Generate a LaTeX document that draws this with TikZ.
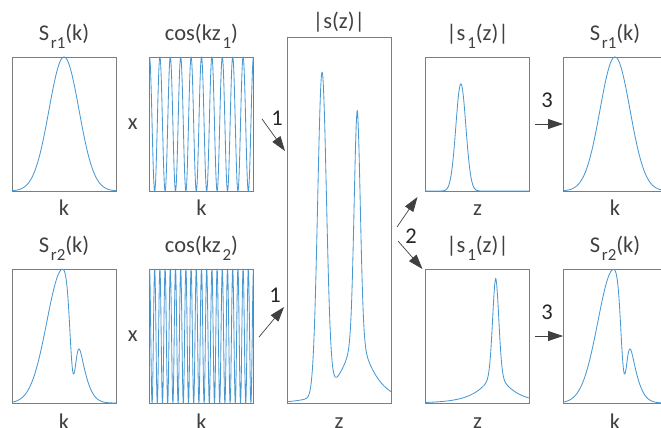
\documentclass[tikz,border=0pt]{standalone}
\usepackage{fontspec}
\setmainfont{Carlito}
\usetikzlibrary{calc, arrows.meta, positioning}
\definecolor{curveblue}{RGB}{72,152,212}
\definecolor{framegray}{RGB}{125,125,125}
\definecolor{textgray}{RGB}{64,64,64}
\newcommand{\lowidx}[1]{\kern0.08em\raisebox{-0.35em}{\fontsize{12}{12}\selectfont #1}}
\tikzset{
  plotbox/.style={draw=framegray, line width=0.6pt, minimum width=2.6cm, minimum height=3.35cm, inner sep=0pt, outer sep=0pt},
  curve/.style={curveblue, line width=0.6pt, line join=round},
  lbl/.style={text=textgray, font=\fontsize{16}{19}\selectfont, inner sep=0pt},
  num/.style={lbl, text=black!85},
  flow/.style={black!75, line width=0.5pt, -{Triangle[length=10.5pt, width=7pt]}},
  declare function={
    gsn(\x,\m,\w)=exp(-((\x-\m)/\w)^2/2);
    skirt(\x)=0.67*gsn(\x,0.675,0.03)+0.26*exp(-abs(\x-0.675)/0.165);
    reflb(\x)=exp(-((\x-0.49)/((\x<0.49)?0.155:0.125))^2/2)*(1-0.7*gsn(\x,0.59,0.03));
  }
}

\begin{document}
\begin{tikzpicture}[x=0.025cm, y=-0.025cm]
    \useasboundingbox (0,0) rectangle (661,427);

    % boxes
    \node[plotbox] (sr1a) at (64,124) {};
    \node[plotbox] (cosa) at (201.5,124) {};
    \node[plotbox] (sr2a) at (64,336) {};
    \node[plotbox] (cosb) at (201.5,336) {};
    \node[plotbox, minimum height=9.15cm] (zmid) at (339,220) {};
    \node[plotbox] (sza) at (477.5,124) {};
    \node[plotbox] (szb) at (477.5,336) {};
    \node[plotbox] (srra) at (615,124) {};
    \node[plotbox] (srrb) at (615,336) {};

    % curves
    \begin{scope}[shift={(sr1a.south west)}, x=2.6cm, y=3.35cm]
        \draw[curve] plot[domain=0:1, samples=150] (\x, {gsn(\x,0.5,0.144)});
    \end{scope}
    \begin{scope}[shift={(srra.south west)}, x=2.6cm, y=3.35cm]
        \draw[curve] plot[domain=0:1, samples=150] (\x, {gsn(\x,0.5,0.144)});
    \end{scope}
    \begin{scope}[shift={(sr2a.south west)}, x=2.6cm, y=3.35cm]
        \draw[curve] plot[domain=0:1, samples=200] (\x, {reflb(\x)});
    \end{scope}
    \begin{scope}[shift={(srrb.south west)}, x=2.6cm, y=3.35cm]
        \draw[curve] plot[domain=0:1, samples=200] (\x, {reflb(\x)});
    \end{scope}
    \begin{scope}[shift={(cosa.south west)}, x=2.6cm, y=3.35cm]
        \draw[curve] plot[domain=0:1, samples=401] (\x, {0.5+0.5*cos(3600*\x)});
    \end{scope}
    \begin{scope}[shift={(cosb.south west)}, x=2.6cm, y=3.35cm]
        \draw[curve] plot[domain=0:1, samples=801] (\x, {0.5+0.5*cos(7200*\x)});
    \end{scope}
    \begin{scope}[shift={(zmid.south west)}, x=2.6cm, y=9.15cm]
        \draw[curve] plot[domain=0:1, samples=300] (\x, {0.875*gsn(\x,0.337,0.042)+0.86*skirt(\x)});
    \end{scope}
    \begin{scope}[shift={(sza.south west)}, x=2.6cm, y=3.35cm]
        \draw[curve] plot[domain=0:1, samples=200] (\x, {0.8*gsn(\x,0.34,0.048)});
    \end{scope}
    \begin{scope}[shift={(szb.south west)}, x=2.6cm, y=3.35cm]
        \draw[curve] plot[domain=0:1, samples=300] (\x, {skirt(\x)});
    \end{scope}

    % titles
    \node[lbl, anchor=base] (tsr1a) at ($(sr1a.north)+(0,-16)$) {S\lowidx{r1}(k)};
    \node[lbl, anchor=base] (tcosa) at ($(cosa.north)+(0,-16)$) {cos(kz\lowidx{1})};
    \node[lbl, anchor=base] (tsr2a) at ($(sr2a.north)+(0,-16)$) {S\lowidx{r2}(k)};
    \node[lbl, anchor=base] (tcosb) at ($(cosb.north)+(0,-16)$) {cos(kz\lowidx{2})};
    \node[lbl, anchor=base] (tzmid) at ($(zmid.north)+(0,-8)$) {|s(z)|};
    \node[lbl, anchor=base] (tsza) at ($(sza.north)+(0,-16)$) {|s\lowidx{1}(z)|};
    \node[lbl, anchor=base] (tszb) at ($(szb.north)+(0,-16)$) {|s\lowidx{1}(z)|};
    \node[lbl, anchor=base] (tsrra) at ($(srra.north)+(0,-16)$) {S\lowidx{r1}(k)};
    \node[lbl, anchor=base] (tsrrb) at ($(srrb.north)+(0,-16)$) {S\lowidx{r2}(k)};

    % axis letters
    \node[lbl, anchor=base] (ksr1a) at ($(sr1a.south)+(0,24)$) {k};
    \node[lbl, anchor=base] (kcosa) at ($(cosa.south)+(0,24)$) {k};
    \node[lbl, anchor=base] (ksr2a) at ($(sr2a.south)+(0,26)$) {k};
    \node[lbl, anchor=base] (kcosb) at ($(cosb.south)+(0,26)$) {k};
    \node[lbl, anchor=base] (zzmid) at ($(zmid.south)+(0,25)$) {z};
    \node[lbl, anchor=base] (zsza) at ($(sza.south)+(0,24)$) {z};
    \node[lbl, anchor=base] (zszb) at ($(szb.south)+(0,25)$) {z};
    \node[lbl, anchor=base] (ksrra) at ($(srra.south)+(0,24)$) {k};
    \node[lbl, anchor=base] (ksrrb) at ($(srrb.south)+(0,26)$) {k};

    % products
    \node[lbl] (xa) at ($(sr1a.east)!0.5!(cosa.west)$) {x};
    \node[lbl] (xb) at ($(sr2a.east)!0.5!(cosb.west)$) {x};

    % step 1
    \coordinate (from1a) at ($(zmid.north west)+(-25,82)$);
    \coordinate (in1a) at ($(zmid.north west)+(-2,114)$);
    \coordinate (from1b) at ($(zmid.south west)+(-28,-66)$);
    \coordinate (in1b) at ($(zmid.south west)+(-3,-96)$);
    \draw[flow] (from1a) -- (in1a);
    \draw[flow] (from1b) -- (in1b);
    \node[num] (n1a) at ($(zmid.north west)+(-10,81)$) {1};
    \node[num] (n1b) at ($(zmid.south west)+(-12,-108)$) {1};

    % step 2
    \coordinate (from2a) at ($(zmid.east)+(6,7)$);
    \coordinate (in2a) at ($(sza.south west)+(-8,6)$);
    \coordinate (from2b) at ($(zmid.east)+(7,21)$);
    \coordinate (in2b) at ($(szb.north west)+(-3,0)$);
    \draw[flow] (from2a) -- (in2a);
    \draw[flow] (from2b) -- (in2b);
    \node[num] (n2) at ($(zmid.east)+(20,16)$) {2};

    % step 3
    \coordinate (from3a) at ($(srra.west)+(-28,0)$);
    \coordinate (from3b) at ($(srrb.west)+(-28,0)$);
    \draw[flow] (from3a) -- (srra.west);
    \draw[flow] (from3b) -- (srrb.west);
    \node[num] (n3a) at ($(srra.west)+(-16,-24)$) {3};
    \node[num] (n3b) at ($(srrb.west)+(-16,-24)$) {3};
\end{tikzpicture}
\end{document}
